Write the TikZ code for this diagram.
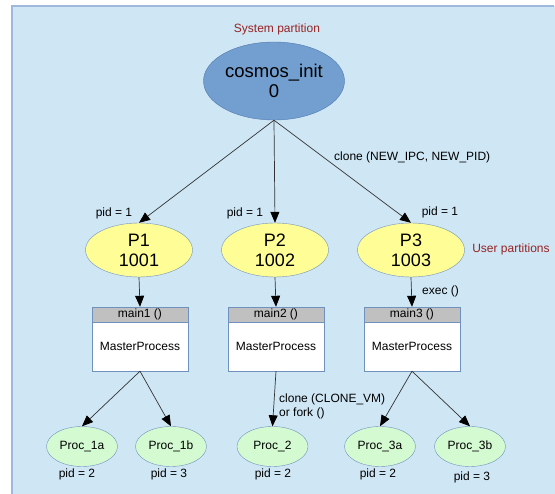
\documentclass[tikz,border=0pt]{standalone}
\usepackage{fontspec}
\setmainfont{Liberation Sans}
\usetikzlibrary{shapes.geometric,arrows.meta}
\definecolor{panelbg}{RGB}{207,230,244}
\definecolor{panelline}{RGB}{158,184,222}
\definecolor{sysblue}{RGB}{114,159,207}
\definecolor{sysline}{RGB}{80,120,175}
\definecolor{partyellow}{RGB}{255,253,150}
\definecolor{procgreen}{RGB}{212,250,210}
\definecolor{nodeline}{RGB}{112,145,190}
\definecolor{headgray}{RGB}{192,192,192}
\definecolor{notered}{RGB}{150,35,35}

\begin{document}
\begin{tikzpicture}[x=1pt,y=-1pt,
    font=\fontsize{12}{14}\selectfont,
    every node/.style={inner sep=0pt},
    sysnode/.style={ellipse,draw=sysline,fill=sysblue,minimum width=141,
      minimum height=78,align=center,font=\fontsize{18.5}{20}\selectfont},
    partnode/.style={ellipse,draw=nodeline,fill=partyellow,minimum width=107,
      minimum height=54,align=center,font=\fontsize{18}{20}\selectfont},
    procnode/.style={ellipse,draw=nodeline,fill=procgreen,minimum width=71,
      minimum height=40},
    headbox/.style={rectangle,draw=nodeline,fill=headgray,minimum width=96,
      minimum height=15},
    bodybox/.style={rectangle,draw=nodeline,fill=white,minimum width=96,
      minimum height=49},
    note/.style={text=notered},
    conn/.style={draw=black!80,line width=0.7pt,
      -{Triangle[length=11pt,width=9pt,color=black]}}]
  \useasboundingbox (0,0) rectangle (555,494);
  \fill[panelbg] (12,6) rectangle (555,494);
  \draw[panelline,line width=1.5pt] (12,494) -- (12,6) -- (554,6);

  \node[note] (syslabel) at (277,29) {System partition};
  \node[sysnode] (cosmos) at (274,81) {cosmos\_init\\0};

  \node[partnode] (p1) at (139,250) {P1\\1001};
  \node[partnode] (p2) at (275,250) {P2\\1002};
  \node[partnode] (p3) at (411,250) {P3\\1003};
  \node[note] (userlabel) at (511,249) {User partitions};

  \node (pidp1) at (114,213) {pid = 1};
  \node (pidp2) at (245,213) {pid = 1};
  \node (pidp3) at (440,212) {pid = 1};
  \node[anchor=west] (clonelabel) at (334,157) {clone (NEW\_IPC, NEW\_PID)};

  \node[headbox] (head1) at (140,314.5) {main1 ()};
  \node[bodybox] (body1) at (140,346.5) {MasterProcess};
  \node[headbox] (head2) at (276,314.5) {main2 ()};
  \node[bodybox] (body2) at (276,346.5) {MasterProcess};
  \node[headbox] (head3) at (412,314.5) {main3 ()};
  \node[bodybox] (body3) at (412,346.5) {MasterProcess};
  \node[anchor=west] (execlabel) at (422,291) {exec ()};

  \node[procnode] (proc1a) at (82,446.5) {Proc\_1a};
  \node[procnode] (proc1b) at (171,446.5) {Proc\_1b};
  \node[procnode] (proc2) at (272.5,446.5) {Proc\_2};
  \node[procnode] (proc3a) at (380,446.5) {Proc\_3a};
  \node[procnode] (proc3b) at (470,446.5) {Proc\_3b};
  \node[anchor=west,align=left] (forklabel) at (279,406)
    {clone (CLONE\_VM)\\or fork ()};

  \node (pid1a) at (77,474) {pid = 2};
  \node (pid1b) at (169,474) {pid = 3};
  \node (pid2) at (273,474) {pid = 2};
  \node (pid3a) at (378,474) {pid = 2};
  \node (pid3b) at (472,477) {pid = 3};

  \draw[conn] (cosmos.south) -- (p1.north);
  \draw[conn] (cosmos.south) -- (p2.north);
  \draw[conn] (cosmos.south) -- (p3.north);
  \draw[conn] (p1.south) -- (head1.north);
  \draw[conn] (p2.south) -- (head2.north);
  \draw[conn] (p3.south) -- (head3.north);
  \draw[conn] (body1.south) -- (proc1a.north);
  \draw[conn] (body1.south) -- (proc1b.north);
  \draw[conn] (body2.south) -- (proc2.north);
  \draw[conn] (body3.south) -- (proc3a.north);
  \draw[conn] (body3.south) -- (proc3b.north);
\end{tikzpicture}
\end{document}
